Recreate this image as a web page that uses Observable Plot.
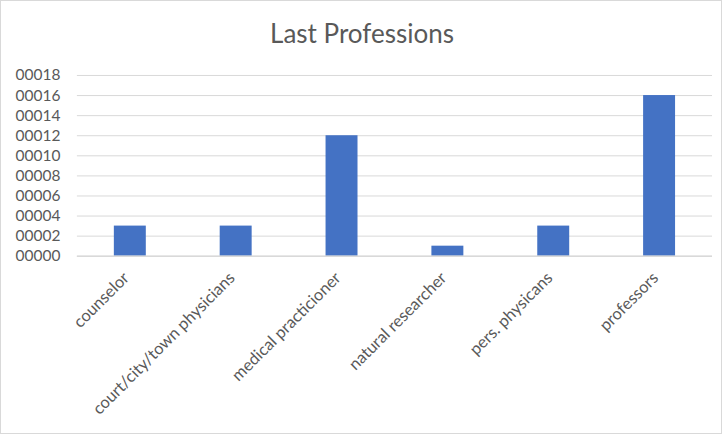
<!DOCTYPE html>
<html><head><meta charset="utf-8">
<script src="https://cdn.jsdelivr.net/npm/d3@7"></script>
<script src="https://cdn.jsdelivr.net/npm/@observablehq/plot@0.6"></script>
<style>
html,body{margin:0;padding:0;background:#fff;}
#chart{position:relative;width:720px;height:432px;border:1px solid #d9d9d9;background:#fff;font-family:Lato,"Open Sans",sans-serif;}
#title{position:absolute;left:0;top:16px;width:722px;text-align:center;font-size:26px;color:#595959;}
#plot{position:absolute;left:-1px;top:54px;}
</style></head>
<body>
<div id="chart"><div id="title">Last Professions</div><div id="plot"></div></div>
<script>
const categories = ["counselor","court/city/town physicians","medical practicioner","natural researcher","pers. physicans","professors"];
const counts = [3,3,12,1,3,16];
const yTicks = [0,2,4,6,8,10,12,14,16,18];
const data = categories.map((c,i)=>({category:c,count:counts[i]}));
const plot = Plot.plot({
  width:722, height:380,
  marginTop:20, marginBottom:179, marginLeft:77, marginRight:9,
  style:{fontFamily:"Lato, 'Open Sans', sans-serif", fontSize:"15px", color:"#595959", background:"transparent"},
  x:{domain:categories, paddingInner:0.7, paddingOuter:0.35, label:null},
  y:{domain:[0,18], label:null},
  marks:[
    Plot.gridY(yTicks,{stroke:"#d9d9d9", strokeOpacity:1, strokeWidth:1}),
    Plot.barY(data,{x:"category", y:"count", fill:"#4472C4"}),
    Plot.ruleY([0],{stroke:"#d9d9d9", strokeWidth:1.5}),
    Plot.axisY(yTicks,{tickSize:0, tickPadding:17, tickFormat:d3.format("05d"), fill:"#595959", fontSize:15.5, label:null}),
    Plot.axisX({tickSize:0, tickPadding:19, dx:-4, tickRotate:-45, fill:"#595959", fontSize:16.5, label:null})
  ]
});
document.getElementById("plot").appendChild(plot);
</script>
</body></html>
